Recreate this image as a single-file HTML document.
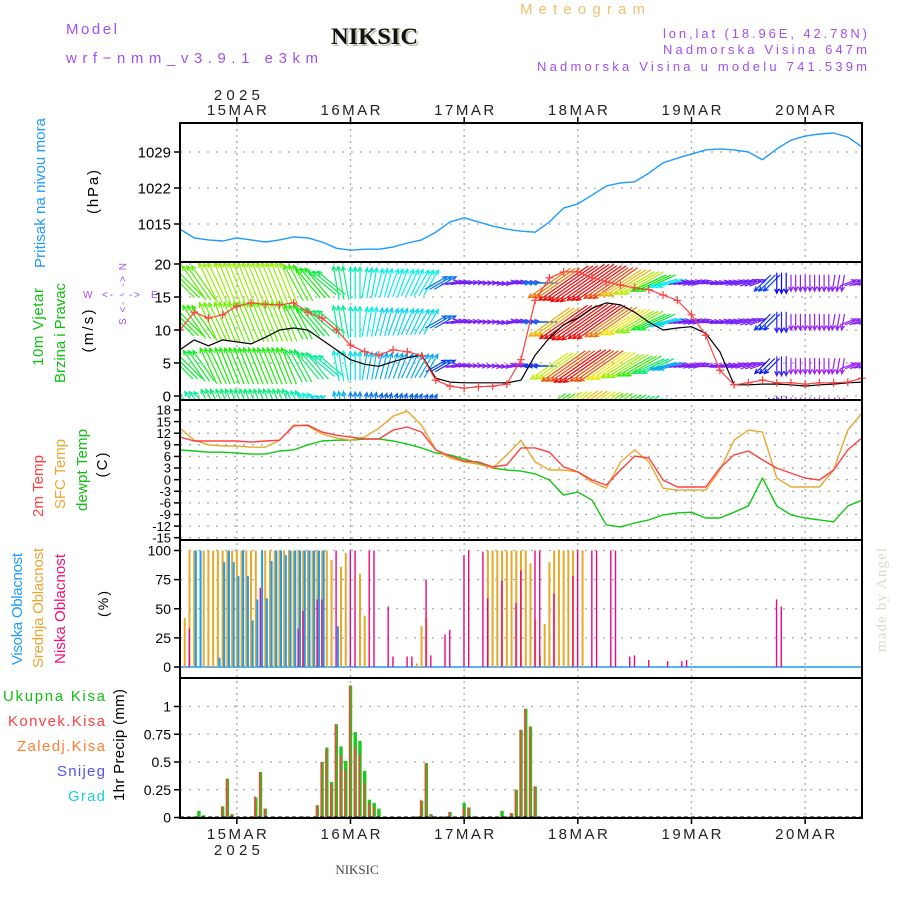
<!DOCTYPE html>
<html><head><meta charset="utf-8"><title>Meteogram NIKSIC</title>
<style>
html,body{margin:0;padding:0;background:#fff;}
svg{display:block;font-family:"Liberation Sans",sans-serif;}
</style></head>
<body>
<svg id="chart" width="900" height="900" viewBox="0 0 900 900" xmlns="http://www.w3.org/2000/svg">
<defs>
<clipPath id="windclip"><rect x="181" y="263" width="681" height="136"/></clipPath>
<clipPath id="plotclip"><rect x="180" y="123" width="682" height="695"/></clipPath>
</defs>
<rect x="0" y="0" width="900" height="900" fill="#fff"/>

<!-- header -->
<text x="66" y="34" fill="#a050f0" font-size="15" textLength="51" lengthAdjust="spacing">Model</text>
<text x="66" y="63" fill="#a050f0" font-size="15" textLength="252" lengthAdjust="spacing">wrf−nmm_v3.9.1 e3km</text>
<text x="333" y="46" fill="#b8c8a8" font-size="23" font-weight="bold" font-family="Liberation Serif,serif" textLength="87" lengthAdjust="spacingAndGlyphs">NIKSIC</text>
<text x="331" y="44" fill="#111" font-size="23" font-weight="bold" font-family="Liberation Serif,serif" textLength="87" lengthAdjust="spacingAndGlyphs">NIKSIC</text>
<text x="520" y="14" fill="#f0c070" font-size="15" textLength="125" lengthAdjust="spacing">Meteogram</text>
<text x="867" y="38" fill="#a050f0" font-size="13" text-anchor="end" textLength="204" lengthAdjust="spacing">lon,lat (18.96E, 42.78N)</text>
<text x="867" y="54" fill="#a050f0" font-size="13" text-anchor="end" textLength="204" lengthAdjust="spacing">Nadmorska Visina 647m</text>
<text x="867" y="71" fill="#a050f0" font-size="13" text-anchor="end" textLength="330" lengthAdjust="spacing">Nadmorska Visina u modelu 741.539m</text>

<!-- left titles -->
<text transform="translate(45,193) rotate(-90)" text-anchor="middle" fill="#1e9bff" font-size="15" textLength="150" lengthAdjust="spacing">Pritisak na nivou mora</text>
<text transform="translate(98,192) rotate(-90)" text-anchor="middle" fill="#000" font-size="15" textLength="44" lengthAdjust="spacing">(hPa)</text>
<text transform="translate(43,327) rotate(-90)" text-anchor="middle" fill="#10c010" font-size="15" textLength="78" lengthAdjust="spacing">10m Vjetar</text>
<text transform="translate(65,333) rotate(-90)" text-anchor="middle" fill="#10c010" font-size="15" textLength="100" lengthAdjust="spacing">Brzina i Pravac</text>
<text transform="translate(93,331) rotate(-90)" text-anchor="middle" fill="#000" font-size="15" textLength="43" lengthAdjust="spacing">(m/s)</text>
<text x="83" y="298" fill="#a050f0" font-size="10">W</text>
<text x="102" y="298" fill="#a050f0" font-size="10" textLength="38" lengthAdjust="spacing">&lt;- - -&gt;</text>
<text x="151" y="298" fill="#a050f0" font-size="10">E</text>
<text transform="translate(126,294) rotate(-90)" text-anchor="middle" fill="#a050f0" font-size="10" textLength="62" lengthAdjust="spacing">S &lt;- - -&gt; N</text>
<text transform="translate(43,486) rotate(-90)" text-anchor="middle" fill="#ff4040" font-size="15" textLength="62" lengthAdjust="spacing">2m Temp</text>
<text transform="translate(65,474) rotate(-90)" text-anchor="middle" fill="#e8a830" font-size="15" textLength="70" lengthAdjust="spacing">SFC Temp</text>
<text transform="translate(87,470) rotate(-90)" text-anchor="middle" fill="#10c010" font-size="15" textLength="82" lengthAdjust="spacing">dewpt Temp</text>
<text transform="translate(107,465) rotate(-90)" text-anchor="middle" fill="#000" font-size="15" textLength="25" lengthAdjust="spacing">(C)</text>
<text transform="translate(22,609) rotate(-90)" text-anchor="middle" fill="#1e9bff" font-size="15" textLength="112" lengthAdjust="spacing">Visoka Oblacnost</text>
<text transform="translate(43,608) rotate(-90)" text-anchor="middle" fill="#e8a830" font-size="15" textLength="120" lengthAdjust="spacing">Srednja Oblacnost</text>
<text transform="translate(65,609) rotate(-90)" text-anchor="middle" fill="#f0107a" font-size="15" textLength="110" lengthAdjust="spacing">Niska Oblacnost</text>
<text transform="translate(108,604) rotate(-90)" text-anchor="middle" fill="#000" font-size="14" textLength="26" lengthAdjust="spacing">(%)</text>
<text x="105" y="701" text-anchor="end" fill="#10c010" font-size="15" textLength="102" lengthAdjust="spacing">Ukupna Kisa</text>
<text x="105" y="726" text-anchor="end" fill="#ff4040" font-size="15" textLength="97" lengthAdjust="spacing">Konvek.Kisa</text>
<text x="105" y="751" text-anchor="end" fill="#ff7f30" font-size="15" textLength="88" lengthAdjust="spacing">Zaledj.Kisa</text>
<text x="105" y="776" text-anchor="end" fill="#5050f0" font-size="15" textLength="48" lengthAdjust="spacing">Snijeg</text>
<text x="105" y="801" text-anchor="end" fill="#20d0d0" font-size="15" textLength="37" lengthAdjust="spacing">Grad</text>
<text transform="translate(124,745) rotate(-90)" text-anchor="middle" fill="#000" font-size="15" textLength="112" lengthAdjust="spacing">1hr Precip (mm)</text>

<text transform="translate(886,600) rotate(-90)" text-anchor="middle" fill="#d4dccb" font-size="15" font-family="Liberation Serif,serif" textLength="104" lengthAdjust="spacing">made by Angel</text>
<text x="357" y="874" text-anchor="middle" fill="#444" font-size="13" font-family="Liberation Serif,serif">NIKSIC</text>

<g id="grid"></g>
<g id="marks"></g>
<g id="axes"></g>
</svg>
<script>
// ---- data (3-hourly from 14MAR 12Z) ----
const dayLabels = ["15MAR","16MAR","17MAR","18MAR","19MAR","20MAR"];
const pressure = [1014.0,1012.3,1011.9,1011.7,1012.3,1011.9,1011.5,1011.9,1012.5,1012.3,1011.5,1010.3,1009.9,1010.1,1010.1,1010.5,1011.3,1011.9,1013.4,1015.4,1016.2,1015.4,1014.6,1014.0,1013.6,1013.4,1015.4,1018.1,1018.9,1020.6,1022.4,1023.0,1023.2,1024.9,1026.9,1027.8,1028.6,1029.4,1029.6,1029.4,1029.0,1027.5,1029.6,1031.3,1032.1,1032.5,1032.7,1031.9,1030.0];
const windSpeed = [7.0,8.5,7.6,8.5,8.2,7.9,8.9,10.0,10.3,10.0,8.5,7.0,5.5,4.8,4.5,5.2,5.8,6.2,2.7,2.1,2.0,2.0,2.0,2.0,2.4,6.2,8.8,10.8,11.8,13.3,14.1,13.8,12.7,11.2,10.0,10.3,10.5,9.5,6.7,1.7,1.7,1.8,1.8,1.7,1.5,1.7,1.8,2.0,2.1];
const windGust = [10.0,12.7,11.8,12.3,13.6,14.1,13.9,13.8,14.1,12.7,11.8,10.0,7.7,6.7,6.2,7.0,6.7,6.1,2.4,1.5,1.2,1.4,1.5,1.8,5.5,14.5,17.9,18.8,18.8,17.9,17.3,16.8,16.4,16.1,15.3,14.5,12.3,9.2,3.9,1.7,2.0,2.4,2.0,2.0,1.8,2.0,2.0,2.1,2.7];
const arrowSpeed = [13,13.5,14.5,14.5,14.5,14.5,14.5,14.5,13,12,11,10,9,8.5,8,8,8,8,6,2.5,2.5,2.5,2.5,2.5,2.5,6,18,22,24,22,19,17,15,12,8,2.5,2.5,2.5,2.5,2.5,2.5,5,4,2,2,2,2,2,2.5];
const arrowDir = [135,125,115,112,112,112,112,112,118,130,140,100,90,80,75,70,65,60,30,10,5,0,-5,10,5,180,215,215,215,215,215,212,210,205,195,10,15,5,10,15,20,225,270,270,270,270,260,20,15];
const temp2m = [11.0,10.0,10.0,10.0,10.0,9.7,10.0,10.2,13.9,14.1,12.3,11.5,11.0,10.5,10.5,12.8,13.6,12.3,7.7,6.1,4.8,4.6,3.3,3.8,8.2,8.2,7.1,3.3,2.0,-0.1,-1.4,2.5,6.1,5.6,-0.1,-1.9,-1.9,-1.9,3.0,6.4,7.4,5.1,3.0,1.7,0.4,-0.1,2.5,7.7,10.8];
const tempSfc = [13.3,10.2,9.0,8.7,8.7,8.4,8.4,10.2,14.1,13.9,11.8,10.8,10.2,11.0,13.3,16.4,17.7,14.1,7.7,5.6,4.6,4.0,3.0,6.4,10.2,4.6,2.5,2.5,2.0,-0.6,-2.2,4.6,7.7,4.6,-2.2,-2.7,-2.7,-2.7,2.5,10.2,12.8,12.3,0.4,-1.9,-1.9,-1.9,2.5,12.8,17.2];
const tempDew = [7.7,7.4,7.1,7.1,6.9,6.6,6.6,7.4,7.7,9.0,10.0,10.2,10.2,10.5,10.5,10.0,9.2,8.2,6.9,6.4,5.3,4.3,3.0,2.5,2.2,1.5,-0.1,-4.0,-3.2,-5.3,-11.7,-12.2,-11.2,-10.4,-9.1,-8.6,-8.4,-9.9,-9.9,-8.4,-6.8,0.4,-6.8,-9.1,-9.9,-10.4,-10.9,-6.8,-5.3];
// ---- hourly data ----
const cloudHigh = [0,0,0,100,100,0,0,0,8,90,100,90,
78,100,78,40,58,100,59,91,100,100,96,100,
100,100,100,100,100,100,100,0,0,35,0,0,
0,0,0,0,0,0,0,0,0,0,0,0,
0,0,0,0,0,0,0,0,0,0,0,0,
0,0,0,0,0,0,0,0,0,0,0,0,
0,0,0,0,0,0,0,0,0,0,0,0,
0,0,0,0,0,0,0,0,0,0,0,0,
0,0,0,0,0,0,0,0,0,0,0,0,
0,0,0,0,0,0,0,0,0,0,0,0,
0,0,0,0,0,0,0,0,0,0,0,0,
0,0,0,0,0,0,0,0,0,0,0,0,0];
const cloudMid = [0,42,100,100,0,100,100,100,100,100,100,100,
100,100,100,100,100,0,100,100,100,100,100,100,
100,100,100,100,100,100,100,100,92,0,86,98,
0,0,80,44,0,0,0,0,0,0,0,0,
0,0,3,35,42,0,0,0,0,0,0,0,
0,0,0,0,0,100,100,100,100,100,100,100,
100,100,89,41,10,37,90,100,100,100,100,100,
0,100,0,0,0,0,0,0,0,0,0,0,
0,0,0,0,0,0,0,0,0,0,0,0,
0,0,0,0,0,0,0,0,0,0,0,0,
0,0,0,0,0,0,0,0,0,0,0,0,
0,0,0,0,0,0,0,0,0,0,0,0,0];
const cloudLow = [0,0,33,0,0,0,0,0,0,0,0,0,
0,0,0,0,0,68,0,0,0,0,0,0,
0,33,48,0,0,58,58,0,0,100,0,0,
100,100,0,0,100,100,0,0,52,9,0,0,
9,9,0,0,75,10,0,0,28,32,0,0,
96,100,0,0,99,59,0,0,74,0,0,55,
83,0,0,100,100,0,0,63,0,0,0,78,
100,0,0,100,100,0,0,100,100,0,0,9,
10,0,0,6,0,0,0,5,0,0,5,6,
0,0,0,0,0,0,0,0,0,0,0,0,
0,0,0,0,0,0,58,52,0,0,0,0,
0,0,0,0,0,0,0,0,0,0,0,0,0];
const precipTotal = [0,0,0,0.01,0.06,0.02,0,0,0,0.1,0.35,0.03,
0,0,0,0.01,0.18,0.41,0.08,0,0,0,0,0,
0,0,0.01,0,0,0.11,0.5,0.63,0.32,0.84,0.64,0.51,
1.19,0.77,0.69,0.42,0.16,0.13,0.08,0,0,0,0,0,
0,0,0.01,0.15,0.49,0.03,0.01,0,0.01,0.05,0,0,
0.13,0.09,0.01,0,0,0,0,0,0.06,0.01,0.04,0.25,
0.79,0.98,0.82,0.28,0,0,0,0,0,0,0,0,
0,0,0,0,0,0,0,0,0,0,0,0,
0,0,0,0,0,0,0,0,0,0,0,0,
0,0,0,0,0,0,0,0,0,0,0,0,
0,0,0,0,0,0,0,0,0,0,0,0,
0,0,0,0,0,0,0,0,0,0,0,0,0];
const precipConv = [0,0,0,0,0,0,0,0,0,0.1,0.35,0.03,
0,0,0,0.01,0.19,0.41,0.08,0,0,0,0,0,
0,0,0.01,0,0,0.11,0.5,0.61,0.3,0.84,0.56,0.43,
1.19,0.63,0.57,0.31,0.13,0.1,0,0,0,0,0,0,
0,0,0.01,0.16,0.49,0.03,0.01,0,0.01,0.05,0,0,
0.09,0.09,0.01,0,0,0,0,0,0.01,0.01,0.04,0.25,
0.79,0.98,0.82,0.28,0,0,0,0,0,0,0,0,
0,0,0,0,0,0,0,0,0,0,0,0,
0,0,0,0,0,0,0,0,0,0,0,0,
0,0,0,0,0,0,0,0,0,0,0,0,
0,0,0,0,0,0,0,0,0,0,0,0,
0,0,0,0,0,0,0,0,0,0,0,0,0];
const pressureTicks = [1015,1022,1029];
const windTicks = [0,5,10,15,20];
const tempTicks = [18,15,12,9,6,3,0,-3,-6,-9,-12,-15];
const cloudTicks = [0,25,50,75,100];
const precipTicks = [0,0.25,0.5,0.75,1];
const precipTickLabels = ["0","0.25","0.5","0.75","1"];

// ---- scales ----
const X0 = 180, X1 = 862, HOURS = 144;
function xH(h){ return X0 + h*(X1-X0)/HOURS; }
function yP(p){ return 224 - (p-1015)*5.143; }
function yW(s){ return 396 - s*6.6; }
function yT(t){ return 410 + (18-t)*3.87; }
function yC(c){ return 667 - c*1.165; }
function yR(r){ return 817.5 - r*111; }
const panels = [[123,262],[262,400],[400,540],[540,678],[678,818]];

const NS = 'http://www.w3.org/2000/svg';
const grid = document.getElementById('grid');
const marks = document.getElementById('marks');
const axes = document.getElementById('axes');
function el(tag, parent){ const e = document.createElementNS(NS, tag); parent.appendChild(e); return e; }

// grid verticals
for (let d=0; d<dayLabels.length; d++){
  const x = xH(12 + d*24);
  const g = el('line', grid);
  
  
  g.setAttribute('x1', x); g.setAttribute('x2', x); g.setAttribute('y1', 123); g.setAttribute('y2', 818);
  g.setAttribute('stroke', '#aaa'); g.setAttribute('stroke-width', '1.3'); g.setAttribute('stroke-dasharray', '2,4');
  // ticks top & bottom
  const t1 = el('line', axes);
  
  
  t1.setAttribute('x1', x); t1.setAttribute('x2', x); t1.setAttribute('y1', 117); t1.setAttribute('y2', 123);
  t1.setAttribute('stroke', '#000'); t1.setAttribute('stroke-width', '1.5');
  const t2 = el('line', axes);
  
  
  t2.setAttribute('x1', x); t2.setAttribute('x2', x); t2.setAttribute('y1', 818); t2.setAttribute('y2', 824);
  t2.setAttribute('stroke', '#000'); t2.setAttribute('stroke-width', '1.5');
  const lt = el('text', axes);
  
  
  lt.setAttribute('x', x); lt.setAttribute('y', 115); lt.setAttribute('text-anchor', 'middle');
  lt.setAttribute('font-size', '15'); lt.setAttribute('textLength', '60'); lt.setAttribute('lengthAdjust', 'spacing'); lt.setAttribute('fill', '#222');
  lt.textContent = dayLabels[d];
  const lb = el('text', axes);
  
  
  lb.setAttribute('x', x); lb.setAttribute('y', 839); lb.setAttribute('text-anchor', 'middle');
  lb.setAttribute('font-size', '15'); lb.setAttribute('textLength', '60'); lb.setAttribute('lengthAdjust', 'spacing'); lb.setAttribute('fill', '#222');
  lb.textContent = dayLabels[d];
}
{
  const y1 = el('text', axes);
  
  
  y1.setAttribute('x', xH(12)); y1.setAttribute('y', 100); y1.setAttribute('text-anchor', 'middle');
  y1.setAttribute('font-size', '15'); y1.setAttribute('textLength', '46'); y1.setAttribute('lengthAdjust', 'spacing'); y1.setAttribute('fill', '#222');
  y1.textContent = '2025';
  const y2 = el('text', axes);
  
  
  y2.setAttribute('x', xH(12)); y2.setAttribute('y', 855); y2.setAttribute('text-anchor', 'middle');
  y2.setAttribute('font-size', '15'); y2.setAttribute('textLength', '46'); y2.setAttribute('lengthAdjust', 'spacing'); y2.setAttribute('fill', '#222');
  y2.textContent = '2025';
}

// y ticks and horizontal grid
function yAxis(ticks, labels, scale, name, fs, gridOn){
  for (let i=0;i<ticks.length;i++){
    const y = scale(ticks[i]);
    if (gridOn){
      const g = el('line', grid);
      
      
      g.setAttribute('x1', X0); g.setAttribute('x2', X1); g.setAttribute('y1', y); g.setAttribute('y2', y);
      g.setAttribute('stroke', '#aaa'); g.setAttribute('stroke-width', '1.3'); g.setAttribute('stroke-dasharray', '2,7');
    }
    const t = el('line', axes);
    
    
    t.setAttribute('x1', X0-6); t.setAttribute('x2', X0); t.setAttribute('y1', y); t.setAttribute('y2', y);
    t.setAttribute('stroke', '#000'); t.setAttribute('stroke-width', '1.5');
    const l = el('text', axes);
    
    
    l.setAttribute('x', X0-9); l.setAttribute('y', y + fs*0.36); l.setAttribute('text-anchor', 'end');
    l.setAttribute('font-size', fs); l.setAttribute('fill', '#000');
    l.textContent = labels ? labels[i] : String(ticks[i]);
  }
}
yAxis(pressureTicks, null, yP, 'pressure', 15, true);
yAxis(windTicks, null, yW, 'wind', 15, true);
yAxis(tempTicks, null, yT, 'temp', 13, true);
yAxis(cloudTicks, null, yC, 'cloud', 14, true);
yAxis(precipTicks, precipTickLabels, yR, 'precip', 14, true);

// helper for polylines
function line3h(values, scale, color, name, width){
  const p = el('polyline', marks);
  
  
  p.setAttribute('points', values.map((v,i)=> xH(i*3).toFixed(1)+','+scale(v).toFixed(1)).join(' '));
  p.setAttribute('fill', 'none'); p.setAttribute('stroke', color); p.setAttribute('stroke-width', width || 1.4);
  p.setAttribute('stroke-linejoin', 'round');
  return p;
}
line3h(pressure, yP, '#1e9bff', 'pressure-line');

// wind arrows
function speedColor(s){ const h = Math.max(0, Math.min(275, 300 - s*15)); return 'hsl('+h+',95%,'+(h>240?'55%':'48%')+')'; }
const windArrows = el('g', marks);


windArrows.setAttribute('clip-path', 'url(#windclip)');
const rowCenters = [283, 322, 366, 405];
const rowFactor = [1.0, 0.95, 0.85, 0.7];
for (let r=0;r<rowCenters.length;r++){
  for (let i=0;i<arrowSpeed.length;i++){
    for (let k=0;k<3;k++){
      const s = arrowSpeed[i]*rowFactor[r];
      const len = 12 + 2.2*s;
      const a = arrowDir[i]*Math.PI/180;
      const dx = Math.cos(a)*len, dy = -Math.sin(a)*len;
      const cx = xH(i*3 + k), cy = rowCenters[r];
      const col = speedColor(s);
      const x1 = cx - dx/2, y1 = cy - dy/2, x2 = cx + dx/2, y2 = cy + dy/2;
      const ar = el('path', windArrows);
      
      
      const hl = 5, ha = 0.45;
      const bx = -Math.cos(a), by = Math.sin(a);
      const h1x = x2 + hl*(bx*Math.cos(ha) - by*Math.sin(ha)), h1y = y2 + hl*(bx*Math.sin(ha) + by*Math.cos(ha));
      const h2x = x2 + hl*(bx*Math.cos(-ha) - by*Math.sin(-ha)), h2y = y2 + hl*(bx*Math.sin(-ha) + by*Math.cos(-ha));
      ar.setAttribute('d', 'M'+x1.toFixed(1)+','+y1.toFixed(1)+'L'+x2.toFixed(1)+','+y2.toFixed(1)+'M'+h1x.toFixed(1)+','+h1y.toFixed(1)+'L'+x2.toFixed(1)+','+y2.toFixed(1)+'L'+h2x.toFixed(1)+','+h2y.toFixed(1));
      ar.setAttribute('stroke', col); ar.setAttribute('stroke-width', '1.2'); ar.setAttribute('fill', 'none');
    }
  }
}
line3h(windSpeed, yW, '#000', 'wind-speed-line', 1.2);
line3h(windGust, yW, '#ff4040', 'wind-gust-line', 1.2);
for (let i=0;i<windGust.length;i++){
  const x = xH(i*3), y = yW(windGust[i]);
  const m = el('path', marks);
  
  
  m.setAttribute('d', 'M'+(x-4)+','+y+'H'+(x+4)+'M'+x+','+(y-4)+'V'+(y+4));
  m.setAttribute('stroke', '#ff4040'); m.setAttribute('stroke-width', '1.2');
}

// temperatures
line3h(tempDew, yT, '#10c810', 'dewpoint-line');
line3h(tempSfc, yT, '#e8a830', 'sfc-temp-line');
line3h(temp2m, yT, '#ff4040', 'temp-2m-line');

// clouds
{
  const base = el('line', marks);
  
  
  base.setAttribute('x1', X0); base.setAttribute('x2', X1); base.setAttribute('y1', yC(0)); base.setAttribute('y2', yC(0));
  base.setAttribute('stroke', '#1e9bff'); base.setAttribute('stroke-width', '1.5');
}
function bars(values, scale, color, off, w, name){
  for (let h=0; h<values.length; h++){
    if (!values[h]) continue;
    const x = xH(h) + off;
    const y = scale(values[h]), y0 = scale(0);
    const b = el('rect', marks);
    
    
    b.setAttribute('x', (x - w/2).toFixed(2)); b.setAttribute('y', y.toFixed(2));
    b.setAttribute('width', w); b.setAttribute('height', Math.max(0.5, y0 - y).toFixed(2));
    b.setAttribute('fill', color);
  }
}
bars(cloudMid, yC, '#e8a82a', 0, 2, 'cloud-mid-bar');
bars(cloudHigh, yC, '#1a9cf0', 1.6, 2, 'cloud-high-bar');
bars(cloudLow, yC, '#f0087a', -0.2, 1.4, 'cloud-low-bar');

// precip
bars(precipTotal, yR, '#1ec81e', 0, 3.4, 'precip-total-bar');
bars(precipConv, yR, '#ff4040', -0.6, 1.6, 'precip-convective-bar');
{
  const bl = el('line', marks);
  
  
  bl.setAttribute('x1', X0); bl.setAttribute('x2', X1); bl.setAttribute('y1', 817); bl.setAttribute('y2', 817);
  bl.setAttribute('stroke', '#000'); bl.setAttribute('stroke-width', '1'); bl.setAttribute('stroke-dasharray', '4,3');
}

// panel frames
for (let i=0;i<panels.length;i++){
  const r = el('rect', axes);
  
  
  r.setAttribute('x', X0); r.setAttribute('y', panels[i][0]);
  r.setAttribute('width', X1-X0); r.setAttribute('height', panels[i][1]-panels[i][0]);
  r.setAttribute('fill', 'none'); r.setAttribute('stroke', '#000'); r.setAttribute('stroke-width', '2');
}
</script>
</body></html>
